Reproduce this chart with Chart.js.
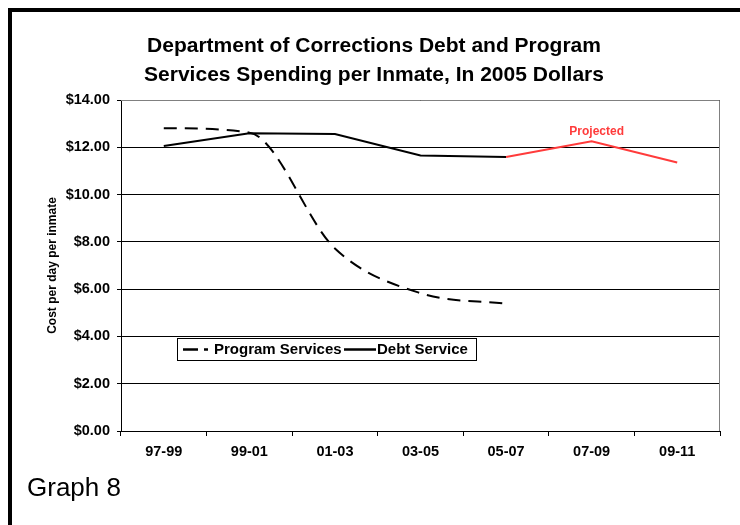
<!DOCTYPE html>
<html>
<head>
<meta charset="utf-8">
<script src="https://cdn.jsdelivr.net/npm/chart.js@4"></script>
<style>
  html, body { margin: 0; padding: 0; background: #fff; }
  #wrap { width: 740px; height: 525px; position: relative; }
</style>
</head>
<body>
<div id="wrap"><canvas id="debtChart" width="740" height="525"></canvas></div>
<script>
// biennium labels and per-inmate daily cost (2005 dollars)
const periods = ['97-99', '99-01', '01-03', '03-05', '05-07', '07-09', '09-11'];
const programServices = [12.81, 12.62, 7.72, 5.83, 5.38, null, null];
const debtService = [12.05, 12.59, 12.56, 11.65, 11.59, 12.25, 11.36];
const yTicks = [0, 2, 4, 6, 8, 10, 12, 14];
const firstProjected = 4; // segments after 05-07 are projections

const FONT = 'Arial, "Liberation Sans", sans-serif';
const RED = '#ff3b3b';

// frame, title, legend, captions
const decorations = {
    id: 'decorations',
    afterDraw(chart) {
        const c = chart.ctx;
        const area = chart.chartArea;
        const x = chart.scales.x, y = chart.scales.y;
        c.save();
        // page frame
        c.fillStyle = '#000';
        c.fillRect(8, 8, 732, 4);
        c.fillRect(8, 8, 4, 517);

        // plot border top/right
        c.strokeStyle = '#808080';
        c.lineWidth = 1;
        c.beginPath();
        c.moveTo(area.left, area.top + 0.5);
        c.lineTo(area.right - 0.5, area.top + 0.5);
        c.lineTo(area.right - 0.5, area.bottom);
        c.stroke();

        // title
        c.fillStyle = '#000';
        c.textAlign = 'center';
        c.textBaseline = 'middle';
        c.font = 'bold 21px ' + FONT;
        c.fillText('Department of Corrections Debt and Program', 374, 46);
        c.fillText('Services Spending per Inmate, In 2005 Dollars', 374, 75);

        // projected label
        c.fillStyle = RED;
        c.font = 'bold 12px ' + FONT;
        c.fillText('Projected', x.getPixelForValue(5) + 5, y.getPixelForValue(12.25) - 10);

        // legend box
        const lx = 177, ly = 338, lw = 299, lh = 22;
        c.fillStyle = '#fff';
        c.fillRect(lx, ly, lw, lh);
        c.strokeStyle = '#000';
        c.lineWidth = 1;
        c.strokeRect(lx + 0.5, ly + 0.5, lw, lh);
        c.lineWidth = 2.5;
        c.beginPath();
        c.moveTo(183, ly + 11.5); c.lineTo(198, ly + 11.5);
        c.moveTo(204, ly + 11.5); c.lineTo(208, ly + 11.5);
        c.moveTo(344, ly + 11.5); c.lineTo(376, ly + 11.5);
        c.stroke();
        c.fillStyle = '#000';
        c.textAlign = 'left';
        c.font = 'bold 15px ' + FONT;
        c.fillText('Program Services', 214, ly + 12);
        c.fillText('Debt Service', 377, ly + 12);

        // caption
        c.font = '26px ' + FONT;
        c.fillText('Graph 8', 27, 489);
        c.restore();
    }
};

new Chart(document.getElementById('debtChart'), {
    type: 'line',
    data: {
        labels: periods,
        datasets: [
            {
                label: 'Program Services',
                data: programServices,
                borderColor: '#000',
                borderWidth: 2,
                borderDash: [13, 8],
                cubicInterpolationMode: 'monotone',
                pointRadius: 0,
                spanGaps: false
            },
            {
                label: 'Debt Service',
                data: debtService,
                borderColor: '#000',
                borderWidth: 2,
                tension: 0,
                pointRadius: 0,
                segment: {
                    borderColor: ctx => ctx.p0DataIndex >= firstProjected ? RED : '#000'
                }
            }
        ]
    },
    options: {
        responsive: false,
        animation: false,
        layout: { padding: { top: 100, right: 20, left: 0, bottom: 0 } },
        plugins: {
            legend: { display: false },
            tooltip: { enabled: false }
        },
        scales: {
            x: {
                offset: true,
                afterFit: s => { s.height = 94; },
                border: { color: '#000', width: 1 },
                grid: { offset: true, drawOnChartArea: false, drawTicks: true, tickLength: 5, color: '#000' },
                ticks: { color: '#000', font: { family: FONT, size: 14.5, weight: 'bold' }, padding: 7, maxRotation: 0 }
            },
            y: {
                min: 0,
                max: 14,
                afterFit: s => { s.width = 121; },
                afterBuildTicks: s => { s.ticks = yTicks.map(v => ({ value: v })); },
                border: { color: '#000', width: 1 },
                grid: { color: '#000', lineWidth: 1, tickLength: 4, drawTicks: true },
                ticks: {
                    color: '#000',
                    padding: 7,
                    font: { family: FONT, size: 14.5, weight: 'bold' },
                    callback: v => '$' + Number(v).toFixed(2)
                },
                title: {
                    display: true,
                    text: 'Cost per day per inmate',
                    color: '#000',
                    font: { family: FONT, size: 12, weight: 'bold' },
                    padding: { top: 45, bottom: 0 }
                }
            }
        }
    },
    plugins: [decorations]
});
</script>
</body>
</html>
